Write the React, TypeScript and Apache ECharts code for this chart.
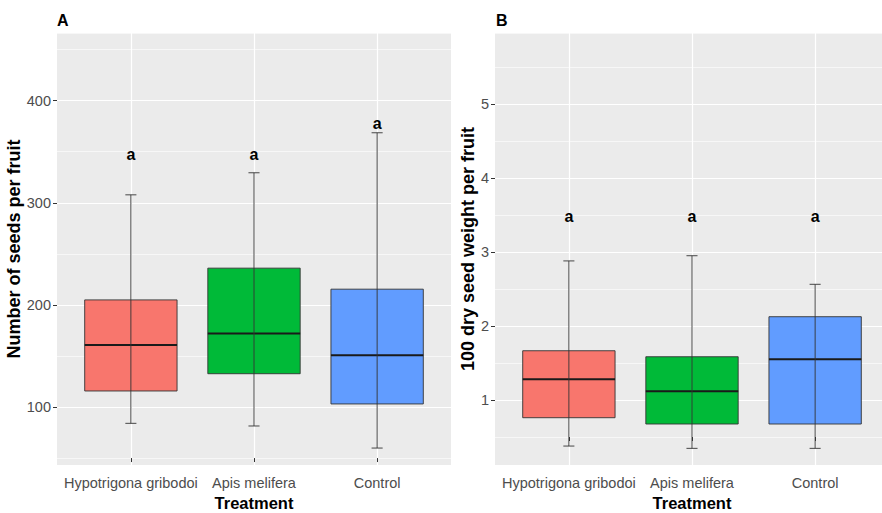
import React, { useEffect, useRef } from "react";
import * as echarts from "echarts";

const categories = ["Hypotrigona gribodoi", "Apis melifera", "Control"];
const boxColors = ["#F8766D", "#00BA38", "#619CFF"];

// [whisker low, Q1, median, Q3, whisker high]
const seedsBoxes = [
  [84, 115.7, 160.8, 204.9, 307.8],
  [81.4, 132.6, 172, 236, 329.4],
  [59.8, 103, 150.7, 215.4, 368.6],
];
const seedsLetters = ["a", "a", "a"];
const seedsLetterY = [347, 347, 378];
const seedsTicks = [100, 200, 300, 400];

const weightBoxes = [
  [0.378, 0.761, 1.28, 1.666, 2.88],
  [0.347, 0.676, 1.117, 1.585, 2.95],
  [0.347, 0.676, 1.55, 2.126, 2.564],
];
const weightLetters = ["a", "a", "a"];
const weightLetterY = [3.48, 3.48, 3.48];
const weightTicks = [1, 2, 3, 4, 5];

const FONT = "'Liberation Sans', Arial, sans-serif";

function boxRender(params: any, api: any) {
  const x = api.value(0);
  const lo = api.coord([x, api.value(1)]);
  const q1 = api.coord([x, api.value(2)]);
  const med = api.coord([x, api.value(3)]);
  const q3 = api.coord([x, api.value(4)]);
  const hi = api.coord([x, api.value(5)]);
  const bw = api.size([0.75, 0])[0];
  const cw = api.size([0.09, 0])[0];
  const cx = lo[0];
  const stroke = "#333333";
  return {
    type: "group",
    children: [
      {
        type: "rect",
        shape: { x: cx - bw / 2, y: q3[1], width: bw, height: q1[1] - q3[1] },
        style: { fill: boxColors[params.dataIndex], stroke, lineWidth: 0.9 },
      },
      {
        type: "line",
        shape: { x1: cx - bw / 2, y1: med[1], x2: cx + bw / 2, y2: med[1] },
        style: { stroke: "#1a1a1a", lineWidth: 2 },
      },
      {
        type: "line",
        shape: { x1: cx, y1: lo[1], x2: cx, y2: hi[1] },
        style: { stroke, lineWidth: 0.9 },
      },
      {
        type: "line",
        shape: { x1: cx - cw / 2, y1: lo[1], x2: cx + cw / 2, y2: lo[1] },
        style: { stroke, lineWidth: 0.9 },
      },
      {
        type: "line",
        shape: { x1: cx - cw / 2, y1: hi[1], x2: cx + cw / 2, y2: hi[1] },
        style: { stroke, lineWidth: 0.9 },
      },
    ],
  };
}

function letterRender(params: any, api: any) {
  const p = api.coord([api.value(0), api.value(1)]);
  return {
    type: "text",
    x: p[0],
    y: p[1],
    style: {
      text: api.value(2),
      fill: "#000",
      font: `bold 16px ${FONT}`,
      align: "center",
      verticalAlign: "middle",
    },
  };
}

function panelAxes(gridIndex: number, yMin: number, yMax: number, ticks: number[], minorOffset: number, yName: string, yNameGap: number) {
  const xAxis = {
    type: "value",
    gridIndex,
    min: 0.4,
    max: 3.6,
    splitNumber: 3,
    minInterval: 1,
    maxInterval: 1,
    name: "Treatment",
    nameLocation: "middle",
    nameGap: 29,
    nameTextStyle: { fontFamily: FONT, fontWeight: "bold", fontSize: 16.5, color: "#000" },
    axisLine: { show: false },
    axisTick: { show: true, length: 4, customValues: [1, 2, 3], lineStyle: { color: "#333", width: 1 } },
    axisLabel: {
      customValues: [1, 2, 3],
      margin: 10,
      fontFamily: FONT,
      fontSize: 14.5,
      color: "#4D4D4D",
      formatter: (v: number) => categories[Math.round(v) - 1] ?? "",
    },
    splitLine: { show: true, lineStyle: { color: "#FFFFFF", width: 1.2 } },
  };
  const yMain = {
    type: "value",
    gridIndex,
    min: yMin,
    max: yMax,
    name: yName,
    nameLocation: "middle",
    nameGap: yNameGap,
    nameRotate: 90,
    nameTextStyle: { fontFamily: FONT, fontWeight: "bold", fontSize: 18, color: "#000" },
    axisLine: { show: false },
    axisTick: { show: true, length: 4, customValues: ticks, lineStyle: { color: "#333", width: 1 } },
    axisLabel: { customValues: ticks, margin: 6, fontFamily: FONT, fontSize: 14.5, color: "#4D4D4D" },
    splitLine: { show: true, lineStyle: { color: "#FFFFFF", width: 1.2 } },
  };
  const yMinor = {
    type: "value",
    gridIndex,
    min: yMin - minorOffset,
    max: yMax - minorOffset,
    position: "left",
    axisLine: { show: false },
    axisTick: { show: false },
    axisLabel: { show: false },
    splitLine: { show: true, lineStyle: { color: "#FFFFFF", width: 0.6 } },
  };
  return { xAxis, yAxes: [yMain, yMinor] };
}

export default function App() {
  const ref = useRef<HTMLDivElement>(null);
  useEffect(() => {
    if (!ref.current) return;
    const chart = echarts.init(ref.current, null, { renderer: "svg" });
    const a = panelAxes(0, 43.2, 466.3, seedsTicks, 50, "Number of seeds per fruit", 30);
    const b = panelAxes(1, 0.122, 5.96, weightTicks, 0.5, "100 dry seed weight per fruit", 15);
    const seedsData = seedsBoxes.map((bx, i) => [i + 1, ...bx]);
    const weightData = weightBoxes.map((bx, i) => [i + 1, ...bx]);
    const seedsLetterData = seedsLetterY.map((y, i) => [i + 1, y, seedsLetters[i]]);
    const weightLetterData = weightLetterY.map((y, i) => [i + 1, y, weightLetters[i]]);
    chart.setOption({
      animation: false,
      backgroundColor: "#FFFFFF",
      title: [
        { text: "A", left: 57, top: 12, padding: 0, textStyle: { fontFamily: FONT, fontWeight: "bold", fontSize: 16, color: "#000" } },
        { text: "B", left: 496, top: 12, padding: 0, textStyle: { fontFamily: FONT, fontWeight: "bold", fontSize: 16, color: "#000" } },
      ],
      grid: [
        { left: 57, right: 431, top: 33, bottom: 48, outerBoundsMode: "none", containLabel: false, show: true, backgroundColor: "#EBEBEB", borderWidth: 0 },
        { left: 495, right: -7, top: 33, bottom: 48, outerBoundsMode: "none", containLabel: false, show: true, backgroundColor: "#EBEBEB", borderWidth: 0 },
      ],
      xAxis: [a.xAxis, b.xAxis],
      yAxis: [...a.yAxes, ...b.yAxes],
      series: [
        {
          type: "custom",
          xAxisIndex: 0,
          yAxisIndex: 0,
          renderItem: boxRender,
          encode: { x: 0, y: [1, 2, 3, 4, 5] },
          data: seedsData,
          z: 3,
        },
        {
          type: "custom",
          xAxisIndex: 0,
          yAxisIndex: 0,
          renderItem: letterRender,
          encode: { x: 0, y: 1 },
          data: seedsLetterData,
          z: 4,
        },
        {
          type: "custom",
          xAxisIndex: 1,
          yAxisIndex: 2,
          renderItem: boxRender,
          encode: { x: 0, y: [1, 2, 3, 4, 5] },
          data: weightData,
          z: 3,
        },
        {
          type: "custom",
          xAxisIndex: 1,
          yAxisIndex: 2,
          renderItem: letterRender,
          encode: { x: 0, y: 1 },
          data: weightLetterData,
          z: 4,
        },
      ],
    });
    return () => chart.dispose();
  }, []);
  return <div ref={ref} style={{ position: "fixed", left: 0, top: 0, width: 882, height: 513 }} />;
}
